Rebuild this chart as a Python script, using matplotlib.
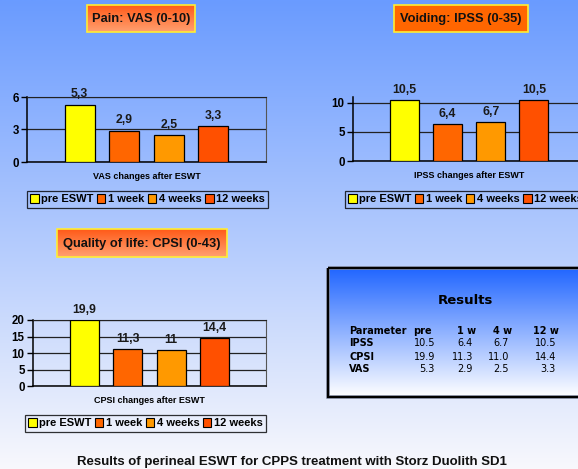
import numpy as np
import matplotlib
matplotlib.use("Agg")
import matplotlib.pyplot as plt
from matplotlib.patches import Rectangle, Patch

plt.rcParams['font.family'] = ['Liberation Sans', 'DejaVu Sans']

# data
categories = ['pre ESWT', '1 week', '4 weeks', '12 weeks']
vas = [5.3, 2.9, 2.5, 3.3]
ipss = [10.5, 6.4, 6.7, 10.5]
cpsi = [19.9, 11.3, 11.0, 14.4]
bar_colors = ['#ffff00', '#ff6600', '#ff9900', '#ff5000']

table_header = ['Parameter', 'pre', '1 w', '4 w', '12 w']
table_rows = ['IPSS', 'CPSI', 'VAS']
table_values = [ipss, cpsi, vas]

W, H = 578, 469
fig = plt.figure(figsize=(W / 100, H / 100), dpi=100)

def fx(x):
    return x / W

def fy(y):
    return 1 - y / H

# background in pixel coordinates
bg = fig.add_axes([0, 0, 1, 1])
bg.axis('off')
grad = np.linspace(0, 1, 256)[:, None]
top = np.array([106, 155, 255]) / 255
bot = np.array([248, 248, 252]) / 255
bg.imshow(top + grad[..., None] * (bot - top), extent=(0, W, H, 0), aspect='auto', zorder=0)

def title_box(x0, x1, y0, y1, text, c_top, c_bot):
    g = np.linspace(0, 1, 64)[:, None]
    ct = np.array(matplotlib.colors.to_rgb(c_top))
    cb = np.array(matplotlib.colors.to_rgb(c_bot))
    bg.imshow(ct + g[..., None] * (cb - ct), extent=(x0, x1, y1, y0), aspect='auto', zorder=1)
    bg.add_patch(Rectangle((x0, y0), x1 - x0, y1 - y0, fill=False, edgecolor='#ffee33', lw=1.2, zorder=2))
    bg.text((x0 + x1) / 2, (y0 + y1) / 2 + 0.5, text, ha='center', va='center',
            fontsize=9.3, fontweight='bold', color='#111111', zorder=3)

title_box(87, 195, 5, 32, 'Pain: VAS (0-10)', '#ff5a18', '#ffa070')
title_box(394, 528, 5, 32, 'Voiding: IPSS (0-35)', '#ff6600', '#ff6600')
title_box(57, 227, 229, 257, 'Quality of life: CPSI (0-43)', '#ff5a18', '#ffa070')

def fmt(v):
    return f"{v:g}".replace('.', ',')

def panel(x0, x1, y0, y1, values, yticks, ymax, xlabel, leg_x, leg_y, top_spine=True):
    ax = fig.add_axes([fx(x0), fy(y1), (x1 - x0) / W, (y1 - y0) / H])
    ax.patch.set_alpha(0)
    x = np.arange(len(values))
    bars = ax.bar(x, values, width=0.67, color=bar_colors, edgecolor='black', lw=0.9, zorder=3)
    ax.bar_label(bars, labels=[fmt(v) for v in values], padding=3,
                 fontsize=8.8, fontweight='bold', color='#1a1a1a')
    ax.set_xlim(-1.18, 4.18)
    ax.set_ylim(0, ymax)
    ax.set_yticks(yticks)
    ax.set_yticklabels([str(t) for t in yticks], fontsize=8.3, fontweight='bold')
    ax.set_xticks([])
    ax.tick_params(axis='y', length=4, width=1, pad=2)
    ax.yaxis.grid(True, color='#222222', lw=0.9, zorder=1)
    ax.set_axisbelow(True)
    for s in ['left', 'bottom']:
        ax.spines[s].set_color('black')
        ax.spines[s].set_linewidth(1.1)
    ax.spines['right'].set_color('#555555')
    ax.spines['top'].set_color('#222222')
    ax.spines['top'].set_visible(top_spine)
    ax.set_xlabel(xlabel, fontsize=6.5, fontweight='bold', labelpad=7)
    handles = [Patch(facecolor=c, edgecolor='black', lw=0.8) for c in bar_colors]
    leg = ax.legend(handles, categories, ncol=4, loc='upper left',
                    bbox_to_anchor=(fx(leg_x), fy(leg_y)), bbox_transform=fig.transFigure,
                    borderaxespad=0, frameon=True, fancybox=False,
                    prop={'size': 8, 'weight': 'bold'},
                    handlelength=0.75, handleheight=0.75, handletextpad=0.25,
                    columnspacing=0.3, borderpad=0.3)
    leg.get_frame().set_edgecolor('black')
    leg.get_frame().set_facecolor('none')
    leg.get_frame().set_linewidth(0.9)
    return ax

panel(27, 266, 97, 162, vas, [0, 3, 6], 6, 'VAS changes after ESWT', 27, 191)
panel(353, 585, 97, 161, ipss, [0, 5, 10], 11, 'IPSS changes after ESWT', 345, 191, top_spine=False)
panel(33, 266, 320, 386, cpsi, [0, 5, 10, 15, 20], 20, 'CPSI changes after ESWT', 25, 415)

# results box
rx0, rx1, ry0, ry1 = 328, 592, 268, 397
g = np.linspace(0, 1, 128)[:, None]
ct = np.array([0.13, 0.40, 1.0])
cb = np.array([1.0, 1.0, 1.0])
bg.imshow(ct + g[..., None] * (cb - ct), extent=(rx0, rx1, ry1, ry0), aspect='auto', zorder=1)
bg.add_patch(Rectangle((rx0, ry0), rx1 - rx0, ry1 - ry0, fill=False, edgecolor='#8890a8', lw=2.6, zorder=2))
bg.add_patch(Rectangle((rx0, ry0), rx1 - rx0, ry1 - ry0, fill=False, edgecolor='black', lw=1.6, zorder=2))
tfont = ['DejaVu Sans']
bg.text(465, 301, 'Results', ha='center', va='center', fontsize=9.5, fontweight='bold',
        family=tfont, zorder=3)

head_right = [432, 476, 512, 559]
val_right = [435, 473, 509, 556]
row_y = [343, 356.5, 368.5]
bg.text(349, 331, table_header[0], ha='left', va='center', fontsize=7, fontweight='bold', family=tfont, zorder=3)
for hx, h in zip(head_right, table_header[1:]):
    bg.text(hx, 331, h, ha='right', va='center', fontsize=7, fontweight='bold', family=tfont, zorder=3)
for yy, name, vals in zip(row_y, table_rows, table_values):
    bg.text(349, yy, name, ha='left', va='center', fontsize=7, fontweight='bold', family=tfont, zorder=3)
    for vx, v in zip(val_right, vals):
        bg.text(vx, yy, f"{v:.1f}", ha='right', va='center', fontsize=7, family=tfont, zorder=3)

bg.text(292, 462, 'Results of perineal ESWT for CPPS treatment with Storz Duolith SD1',
        ha='center', va='center', fontsize=9.5, fontweight='bold', color='#111111', zorder=3)

bg.set_xlim(0, W)
bg.set_ylim(H, 0)

fig.savefig('out.png', dpi=100)
